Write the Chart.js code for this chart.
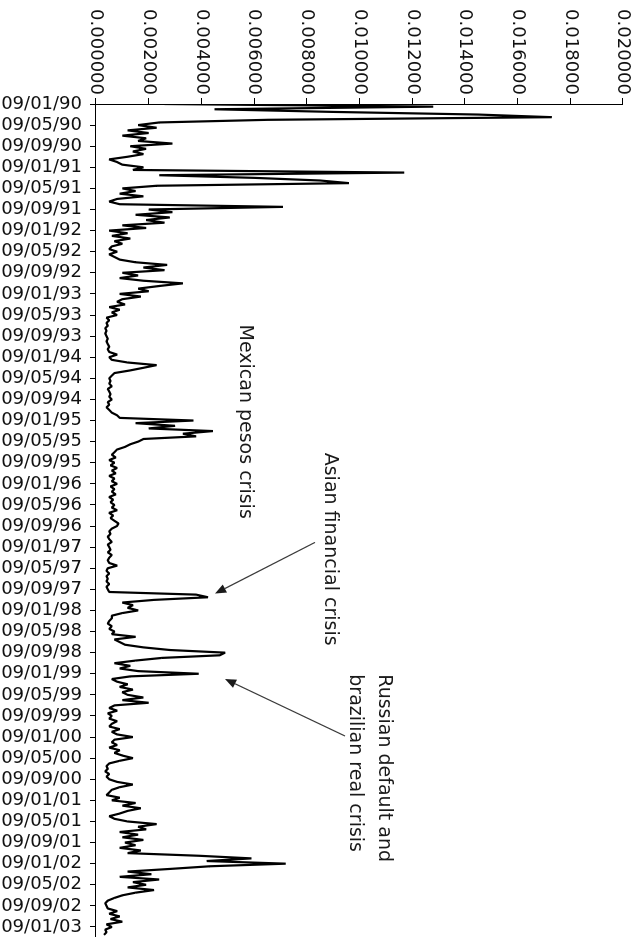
<!DOCTYPE html>
<html>
<head>
<meta charset="utf-8">
<script src="https://cdn.jsdelivr.net/npm/chart.js@4.4.1/dist/chart.umd.min.js"></script>
<style>
  html, body { margin: 0; padding: 0; background: #fff; }
  body { width: 643px; height: 937px; overflow: hidden; position: relative; }
  /* the chart is drawn lying down and turned a quarter clockwise */
  #wrap { position: absolute; left: 0; top: 0; width: 937px; height: 643px;
          transform-origin: 0 0; transform: translate(643px, 0) rotate(90deg); }
</style>
</head>
<body>
<div id="wrap"><canvas id="volChart" width="937" height="643"></canvas></div>
<script>
// category labels of the date axis (day/month/year, every 4 months)
const dateLabels = [
  '09/01/90','09/05/90','09/09/90','09/01/91','09/05/91','09/09/91',
  '09/01/92','09/05/92','09/09/92','09/01/93','09/05/93','09/09/93',
  '09/01/94','09/05/94','09/09/94','09/01/95','09/05/95','09/09/95',
  '09/01/96','09/05/96','09/09/96','09/01/97','09/05/97','09/09/97',
  '09/01/98','09/05/98','09/09/98','09/01/99','09/05/99','09/09/99',
  '09/01/00','09/05/00','09/09/00','09/01/01','09/05/01','09/09/01',
  '09/01/02','09/05/02','09/09/02','09/01/03'
];
const valueTicks = [0, 0.002, 0.004, 0.006, 0.008, 0.010, 0.012, 0.014, 0.016, 0.018, 0.020];

// volatility, in thousandths, two readings per month
const vol1990 = [2.6, 12.8, 4.5, 9.0, 14.5, 17.3, 6.5, 2.4, 1.6, 2.3, 1.2, 2.0, 1.0, 1.9, 1.6, 2.9, 1.3, 1.9, 1.4, 1.8, 1.2, 0.5, 0.8, 1.0];
const vol1991 = [1.8, 1.4, 11.7, 2.4, 6.0, 8.5, 9.6, 2.3, 1.0, 1.5, 0.9, 1.8, 0.8, 0.5, 0.9, 7.1, 2.0, 2.9, 1.5, 2.8, 1.9, 2.6, 1.0, 1.9];
const vol1992 = [0.5, 1.2, 0.6, 1.3, 0.7, 1.0, 0.6, 0.5, 0.8, 0.5, 0.7, 0.9, 1.5, 2.7, 1.8, 2.6, 1.0, 1.6, 0.9, 1.8, 3.3, 2.4, 1.6, 2.0];
const vol1993 = [0.9, 1.7, 1.0, 0.8, 1.1, 0.5, 0.9, 0.6, 0.8, 0.4, 0.5, 0.4, 0.45, 0.35, 0.4, 0.35, 0.4, 0.45, 0.4, 0.45, 0.5, 0.45, 0.5, 0.8];
const vol1994 = [0.5, 0.6, 1.2, 2.3, 1.8, 1.3, 0.7, 0.6, 0.5, 0.55, 0.5, 0.6, 0.45, 0.5, 0.55, 0.5, 0.6, 0.45, 0.5, 0.4, 0.5, 0.6, 0.8, 0.9];
const vol1995 = [3.7, 1.5, 3.0, 2.0, 4.44, 3.3, 3.8, 1.8, 1.6, 1.3, 1.1, 0.8, 0.7, 0.6, 0.75, 0.5, 0.7, 0.55, 0.8, 0.6, 0.75, 0.5, 0.7, 0.6];
const vol1996 = [0.8, 0.55, 0.7, 0.6, 0.75, 0.5, 0.65, 0.55, 0.7, 0.6, 0.8, 0.5, 0.65, 0.55, 0.7, 0.85, 0.8, 0.6, 0.5, 0.55, 0.45, 0.5, 0.6, 0.45];
const vol1997 = [0.5, 0.55, 0.45, 0.6, 0.5, 0.45, 0.5, 0.8, 0.45, 0.4, 0.5, 0.4, 0.45, 0.4, 0.5, 0.4, 0.45, 0.5, 3.8, 4.25, 2.2, 1.0, 1.4, 1.2];
const vol1998 = [1.6, 1.0, 0.6, 0.6, 0.5, 0.45, 0.6, 0.5, 0.7, 0.6, 1.5, 0.7, 0.9, 1.1, 1.8, 2.8, 4.9, 4.7, 2.5, 1.5, 0.7, 1.3, 0.9, 1.6];
const vol1999 = [3.9, 1.3, 0.6, 0.8, 1.2, 0.9, 1.4, 1.0, 1.2, 1.8, 1.0, 2.0, 0.7, 0.5, 0.8, 0.45, 0.6, 0.5, 0.8, 0.6, 0.5, 0.9, 0.6, 0.8];
const vol2000 = [1.4, 0.7, 0.6, 0.8, 0.5, 0.9, 0.7, 1.0, 1.4, 0.9, 0.5, 0.4, 0.45, 0.35, 0.5, 0.4, 0.5, 0.8, 1.4, 0.9, 0.6, 0.5, 0.4, 0.9];
const vol2001 = [0.6, 1.5, 1.0, 1.7, 1.2, 0.9, 0.5, 0.7, 1.2, 2.3, 1.6, 1.9, 0.9, 1.6, 1.0, 1.8, 1.1, 1.5, 0.9, 1.7, 1.2, 3.9, 5.9, 4.2];
const vol2002 = [7.2, 4.3, 2.8, 1.2, 2.1, 0.9, 2.4, 1.4, 1.9, 1.2, 2.2, 1.5, 1.0, 0.7, 0.45, 0.35, 0.4, 0.45, 0.8, 0.5, 0.9, 0.55, 1.0, 0.4];
const vol2003 = [0.6, 0.35, 0.4, 0.3];

const volatility = [].concat(vol1990, vol1991, vol1992, vol1993, vol1994, vol1995, vol1996,
  vol1997, vol1998, vol1999, vol2000, vol2001, vol2002, vol2003);

const stepMonths = 0.5;       // spacing of the readings
const labelEvery = 4;         // a date label every 4 months

// notes written on the chart, anchored in data units (months, value)
const notes = [
  { lines: ['Mexican pesos crisis'], month: 41.8, values: [0.00567] },
  { lines: ['Asian financial crisis'], month: 66.1, values: [0.00888] },
  { lines: ['Russian default and', 'brazilian real crisis'], month: 108.1, values: [0.01091, 0.00981] }
];
const arrows = [
  { from: [83.1, 0.00831], to: [92.8, 0.00452] },
  { from: [119.8, 0.00945], to: [109.0, 0.0049] }
];

const textFont = { family: '"DejaVu Sans", sans-serif', size: 18 };

const notesPlugin = {
  id: 'notes',
  afterDatasetsDraw(chart) {
    const c = chart.ctx;
    const xs = chart.scales.x, ys = chart.scales.y;
    c.save();
    c.fillStyle = '#1a1a1a';
    c.font = '19px "DejaVu Sans", sans-serif';
    c.textBaseline = 'middle';
    c.textAlign = 'left';
    notes.forEach(n => {
      n.lines.forEach((t, k) => {
        c.fillText(t, xs.getPixelForValue(n.month), ys.getPixelForValue(n.values[k]));
      });
    });
    c.strokeStyle = '#3a3a3a';
    c.fillStyle = '#1a1a1a';
    c.lineWidth = 1.2;
    arrows.forEach(a => {
      const x1 = xs.getPixelForValue(a.from[0]), y1 = ys.getPixelForValue(a.from[1]);
      const x2 = xs.getPixelForValue(a.to[0]), y2 = ys.getPixelForValue(a.to[1]);
      const ang = Math.atan2(y2 - y1, x2 - x1);
      const head = 11, half = 4.5;
      c.beginPath();
      c.moveTo(x1, y1);
      c.lineTo(x2 - head * Math.cos(ang), y2 - head * Math.sin(ang));
      c.stroke();
      c.beginPath();
      c.moveTo(x2, y2);
      c.lineTo(x2 - head * Math.cos(ang) - half * Math.sin(ang), y2 - head * Math.sin(ang) + half * Math.cos(ang));
      c.lineTo(x2 - head * Math.cos(ang) + half * Math.sin(ang), y2 - head * Math.sin(ang) - half * Math.cos(ang));
      c.closePath();
      c.fill();
    });
    c.restore();
  }
};

const points = volatility.map((v, i) => ({ x: i * stepMonths, y: v / 1000 }));

const ctx = document.getElementById('volChart').getContext('2d');
const volChart = new Chart(ctx, {
  type: 'line',
  data: {
    datasets: [{
      data: points,
      borderColor: '#000',
      borderWidth: 2.2,
      borderJoinStyle: 'bevel',
      pointRadius: 0,
      tension: 0,
      fill: false
    }]
  },
  options: {
    responsive: false,
    animation: false,
    devicePixelRatio: 1,
    layout: { padding: { top: 20, right: 0, bottom: 0, left: 0 } },
    plugins: { legend: { display: false }, tooltip: { enabled: false } },
    scales: {
      x: {
        type: 'linear',
        position: 'bottom',
        min: 0,
        max: 157.9,
        afterBuildTicks: s => { s.ticks = dateLabels.map((_, k) => ({ value: k * labelEvery })); },
        afterFit: s => { s.height = 96; s.paddingLeft = 0; s.paddingRight = 0; },
        ticks: {
          autoSkip: false,
          minRotation: 90,
          maxRotation: 90,
          padding: 8,
          color: '#111',
          font: textFont,
          callback: (v, k) => dateLabels[k]
        },
        grid: { drawOnChartArea: false, drawTicks: true, tickLength: 6, color: '#000' },
        border: { display: true, color: '#000', width: 1 }
      },
      y: {
        type: 'linear',
        position: 'left',
        min: 0,
        max: 0.02,
        afterBuildTicks: s => { s.ticks = valueTicks.map(v => ({ value: v })); },
        afterFit: s => { s.width = 104; s.paddingTop = 0; s.paddingBottom = 0; },
        ticks: {
          padding: 3,
          color: '#111',
          font: textFont,
          callback: v => Number(v).toFixed(6)
        },
        grid: { drawOnChartArea: false, drawTicks: true, tickLength: 6, color: '#000' },
        border: { display: true, color: '#000', width: 1 }
      }
    }
  },
  plugins: [notesPlugin]
});
</script>
</body>
</html>
